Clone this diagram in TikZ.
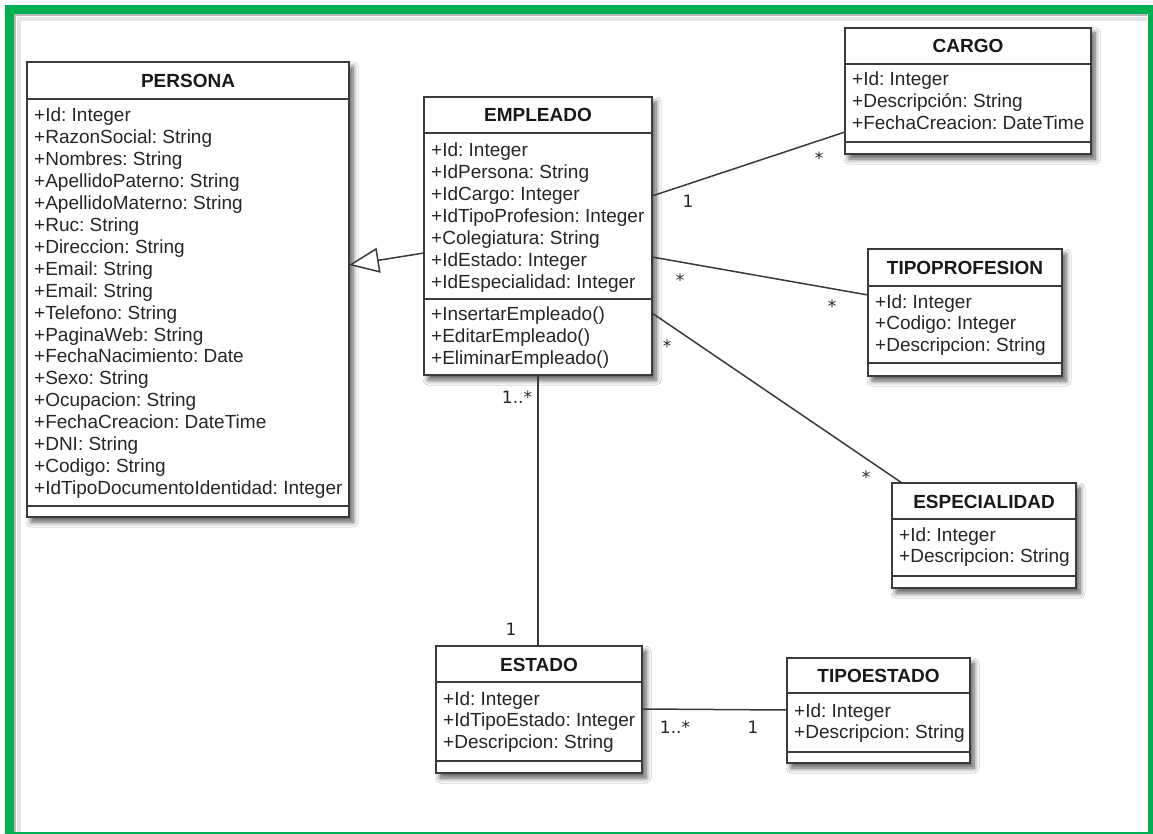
\documentclass[tikz,border=0pt]{standalone}
\usepackage{fontspec}
\setmainfont{Liberation Sans}
\newfontfamily\multfont{DejaVu Sans}
\usetikzlibrary{arrows.meta,shadows.blur}
\frenchspacing

\definecolor{framegreen}{RGB}{0,176,80}
\definecolor{umlline}{RGB}{58,58,58}
\definecolor{umltext}{RGB}{38,38,38}

\tikzset{
  classframe/.style={rectangle, draw=umlline, line width=2pt, fill=white,
    inner sep=0pt, outer sep=0pt, anchor=north west,
    blur shadow={shadow xshift=4pt, shadow yshift=-5pt,
      shadow blur radius=5pt, shadow blur steps=8, shadow opacity=65}},
  sepline/.style={draw=umlline, line width=2pt},
  classtitle/.style={anchor=base, inner sep=0pt,
    font=\fontsize{19}{22}\selectfont\bfseries, text=black!90},
  member/.style={anchor=base west, inner sep=0pt,
    font=\fontsize{19}{22}\selectfont, text=umltext},
  assoc/.style={draw=umlline, line width=1.5pt},
  mult/.style={anchor=base, inner sep=0pt,
    font=\multfont\fontsize{17}{20}\selectfont, text=umltext},
}

% class box: name, title, left, top, right, title rule, attribute rule, bottom
\newcommand{\umlclass}[8]{%
  \node[classframe, minimum width={#5-#3}, minimum height={#8-#4}] (#1) at (#3,#4) {};
  \draw[sepline] (#3,#6) -- (#5,#6) (#3,#7) -- (#5,#7);
  \node[classtitle] (#1-title) at ({(#3+#5)/2},{(#4+#6)/2+7}) {#2};
}
% member lines: name prefix, x, first baseline, line step, list
\newcommand{\umlmembers}[5]{%
  \foreach \txt [count=\k] in {#5} {\node[member] (#1\k) at ({#2},{#3+#4*(\k-1)}) {\txt};}
}

\begin{document}
\begin{tikzpicture}[x=1pt, y=-1pt]
  \useasboundingbox (0,0) rectangle (1153,834);
  \fill[white] (0,0) rectangle (1153,834);

  % green frame with its inner shade
  \draw[black!10, line width=4pt] (19,836) -- (19,19) -- (1147,19);
  \draw[black!28, line width=2pt] (15,836) -- (15,15) -- (1147,15);
  \draw[framegreen, line width=9pt] (9.5,9.5) rectangle (1152.5,836.5);

  % classes
  \umlclass{persona}{PERSONA}{27}{62}{349}{99}{506}{517}
  \umlmembers{persona-a}{34}{122}{21.9}{+Id: Integer, +RazonSocial: String, +Nombres: String,
    +ApellidoPaterno: String, +ApellidoMaterno: String, +Ruc: String, +Direccion: String,
    +Email: String, +Email: String, +Telefono: String, +PaginaWeb: String,
    +FechaNacimiento: Date, +Sexo: String, +Ocupacion: String, +FechaCreacion: DateTime,
    +DNI: String, +Codigo: String, +IdTipoDocumentoIdentidad: Integer}

  \umlclass{empleado}{EMPLEADO}{424}{97}{652}{133}{299}{375}
  \umlmembers{empleado-a}{431}{157}{21.85}{+Id: Integer, +IdPersona: String, +IdCargo: Integer,
    +IdTipoProfesion: Integer, +Colegiatura: String, +IdEstado: Integer,
    +IdEspecialidad: Integer}
  \umlmembers{empleado-m}{431}{320}{22}{+InsertarEmpleado(), +EditarEmpleado(),
    +EliminarEmpleado()}

  \umlclass{cargo}{CARGO}{845}{28}{1091}{64}{142}{154}
  \umlmembers{cargo-a}{852}{86}{21.6}{+Id: Integer, +Descripción: String,
    +FechaCreacion: DateTime}

  \umlclass{tipoprofesion}{TIPOPROFESION}{868}{249}{1062}{286}{363}{376}
  \umlmembers{tipoprofesion-a}{875}{308}{21.8}{+Id: Integer, +Codigo: Integer,
    +Descripcion: String}

  \umlclass{especialidad}{ESPECIALIDAD}{892}{483}{1076}{519}{576}{588}
  \umlmembers{especialidad-a}{899}{541}{21.8}{+Id: Integer, +Descripcion: String}

  \umlclass{estado}{ESTADO}{436}{646}{642}{682}{761}{773}
  \umlmembers{estado-a}{443}{705}{21.9}{+Id: Integer, +IdTipoEstado: Integer,
    +Descripcion: String}

  \umlclass{tipoestado}{TIPOESTADO}{787}{658}{970}{693}{752}{763}
  \umlmembers{tipoestado-a}{794}{717}{21.9}{+Id: Integer, +Descripcion: String}

  % generalization
  \draw[assoc, -{Triangle[length=30pt, width=25pt, fill=white, line width=1.5pt]}]
    ([yshift=-156pt]empleado.north west) -- ([yshift=-203pt]persona.north east);

  % associations
  \draw[assoc] ([yshift=-99pt]empleado.north east) -- ([yshift=-104pt]cargo.north west);
  \draw[assoc] ([yshift=-160pt]empleado.north east) -- ([yshift=-46pt]tipoprofesion.north west);
  \draw[assoc] ([yshift=-216pt]empleado.north east) -- ([xshift=10pt]especialidad.north west);
  \draw[assoc] ([xshift=114pt]empleado.south west) -- ([xshift=102pt]estado.north west);
  \draw[assoc] ([yshift=-63pt]estado.north east) -- ([yshift=-52pt]tipoestado.north west);

  % multiplicities
  \node[mult] (m-cargo-e) at (688,208) {1};
  \node[mult] (m-cargo-c) at (819,165) {*};
  \node[mult] (m-prof-e) at (680,286) {*};
  \node[mult] (m-prof-p) at (832,312) {*};
  \node[mult] (m-esp-e) at (667,352) {*};
  \node[mult] (m-esp-s) at (866,483) {*};
  \node[mult] (m-est-e) at (517,403) {1..*};
  \node[mult] (m-est-s) at (511,635) {1};
  \node[mult] (m-tipo-s) at (675,733) {1..*};
  \node[mult] (m-tipo-t) at (753,733) {1};
\end{tikzpicture}
\end{document}
